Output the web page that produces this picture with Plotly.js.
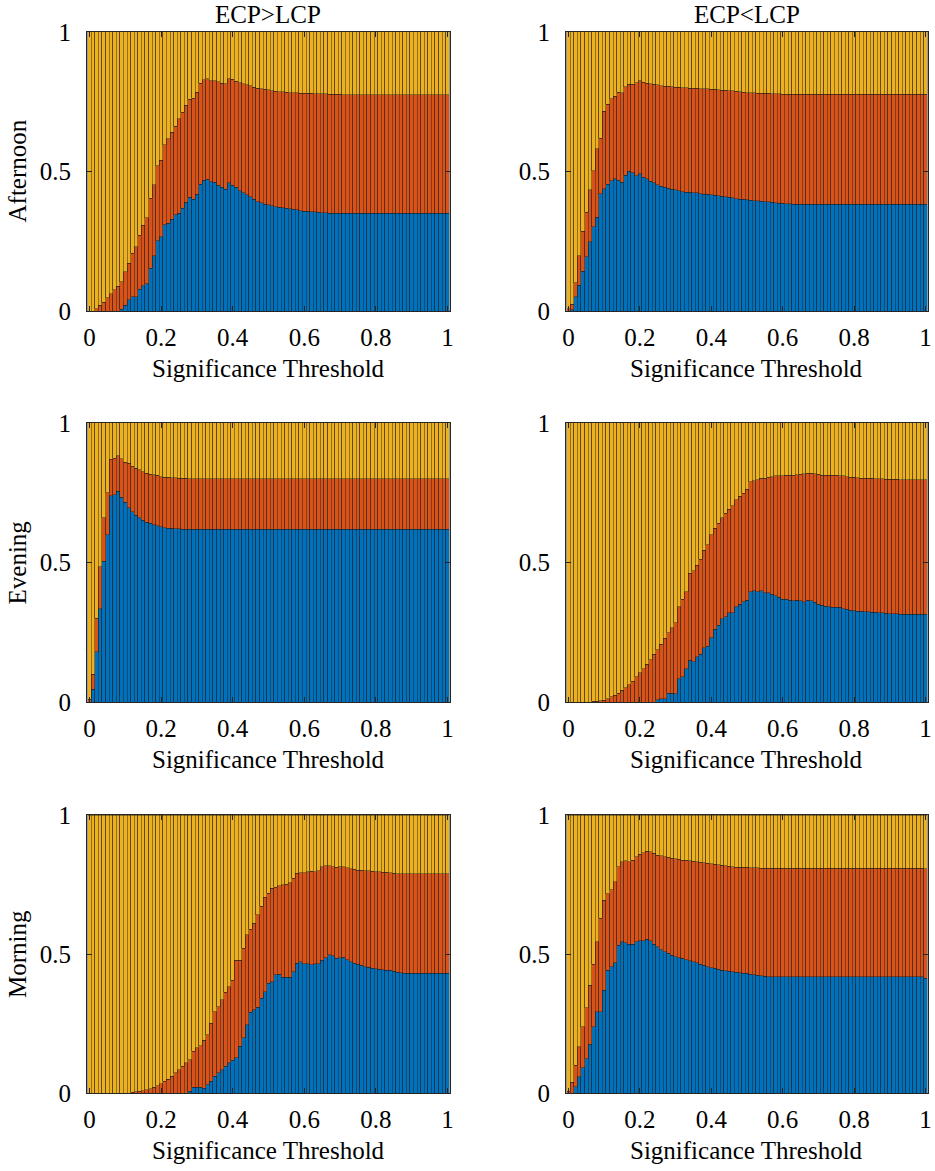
<!DOCTYPE html>
<html>
<head>
<meta charset="utf-8">
<script src="https://cdn.plot.ly/plotly-3.0.1.min.js"></script>
<style>
  html, body { margin: 0; padding: 0; background: #fff; }
  #chart { width: 935px; height: 1171px; }
</style>
</head>
<body>
<div id="chart"></div>
<script>
// ── Dados: topo acumulado de cada faixa ───────────────────────────
// thresholds 0.00 … 1.00 (101 barras); "Blue" = topo da faixa azul,
// "Mid" = topo da faixa laranja; o amarelo completa até 1.

const thresholds = Array.from({ length: 101 }, (_, i) => i / 100);

const xTickVals = [0, 0.2, 0.4, 0.6, 0.8, 1];
const xTickText = ['0', '0.2', '0.4', '0.6', '0.8', '1'];
const yTickVals = [0, 0.5, 1];
const yTickText = ['0', '0.5', '1'];

const colTitles = ['ECP&gt;LCP', 'ECP&lt;LCP'];
const rowTitles = ['Afternoon', 'Evening', 'Morning'];

// Afternoon, ECP>LCP
const aftGtBlue = [
  0, 0, 0, 0, 0, 0, 0, 0, 0, 0.006,
  0.02, 0.04, 0.052, 0.052, 0.078, 0.09, 0.098, 0.153, 0.198, 0.251,
  0.266, 0.309, 0.315, 0.329, 0.345, 0.351, 0.368, 0.389, 0.407, 0.401,
  0.419, 0.455, 0.469, 0.473, 0.463, 0.461, 0.451, 0.444, 0.437, 0.459,
  0.451, 0.443, 0.431, 0.424, 0.416, 0.41, 0.401, 0.392, 0.388, 0.383,
  0.38, 0.377, 0.374, 0.372, 0.37, 0.368, 0.366, 0.364, 0.362, 0.36,
  0.358, 0.357, 0.356, 0.355, 0.354, 0.353, 0.352, 0.351, 0.35, 0.35,
  0.35, 0.35, 0.35, 0.35, 0.35, 0.35, 0.35, 0.35, 0.35, 0.35,
  0.35, 0.35, 0.35, 0.35, 0.35, 0.35, 0.35, 0.35, 0.35, 0.35,
  0.35, 0.35, 0.35, 0.35, 0.35, 0.35, 0.35, 0.35, 0.35, 0.35,
  0.35,
];
const aftGtMid = [
  0, 0, 0.008, 0.02, 0.032, 0.047, 0.062, 0.077, 0.089, 0.104,
  0.14, 0.171, 0.207, 0.23, 0.272, 0.308, 0.335, 0.404, 0.452, 0.521,
  0.541, 0.595, 0.617, 0.641, 0.662, 0.689, 0.713, 0.737, 0.758, 0.763,
  0.784, 0.817, 0.829, 0.832, 0.826, 0.825, 0.821, 0.817, 0.815, 0.832,
  0.83, 0.823, 0.818, 0.815, 0.811, 0.807, 0.802, 0.799, 0.796, 0.795,
  0.793, 0.79, 0.787, 0.786, 0.785, 0.784, 0.783, 0.782, 0.782, 0.781,
  0.781, 0.78, 0.78, 0.779, 0.779, 0.778, 0.778, 0.777, 0.777, 0.776,
  0.776, 0.775, 0.775, 0.775, 0.775, 0.775, 0.775, 0.775, 0.775, 0.775,
  0.775, 0.775, 0.775, 0.775, 0.775, 0.775, 0.775, 0.775, 0.775, 0.775,
  0.775, 0.775, 0.775, 0.775, 0.775, 0.775, 0.775, 0.775, 0.775, 0.775,
  0.775,
];

// Afternoon, ECP<LCP
const aftLtBlue = [
  0, 0.005, 0.052, 0.092, 0.142, 0.195, 0.249, 0.302, 0.336, 0.42,
  0.438, 0.454, 0.466, 0.474, 0.468, 0.462, 0.486, 0.5, 0.495, 0.484,
  0.492, 0.48, 0.474, 0.465, 0.459, 0.453, 0.448, 0.443, 0.44, 0.437,
  0.434, 0.431, 0.428, 0.426, 0.425, 0.424, 0.423, 0.421, 0.419, 0.418,
  0.416, 0.415, 0.413, 0.411, 0.409, 0.407, 0.405, 0.403, 0.401, 0.4,
  0.398, 0.397, 0.396, 0.395, 0.393, 0.392, 0.391, 0.389, 0.388, 0.387,
  0.386, 0.385, 0.384, 0.383, 0.383, 0.383, 0.383, 0.383, 0.383, 0.383,
  0.383, 0.383, 0.383, 0.383, 0.383, 0.383, 0.383, 0.383, 0.383, 0.383,
  0.383, 0.383, 0.383, 0.383, 0.383, 0.383, 0.383, 0.383, 0.383, 0.383,
  0.383, 0.383, 0.383, 0.383, 0.383, 0.383, 0.383, 0.383, 0.383, 0.383,
  0.383,
];
const aftLtMid = [
  0.008, 0.025, 0.102, 0.198, 0.285, 0.354, 0.435, 0.502, 0.582, 0.62,
  0.716, 0.741, 0.76, 0.77, 0.784, 0.782, 0.804, 0.812, 0.812, 0.818,
  0.826, 0.82, 0.817, 0.815, 0.812, 0.81, 0.808, 0.806, 0.805, 0.803,
  0.802, 0.801, 0.8, 0.8, 0.799, 0.799, 0.798, 0.797, 0.796, 0.796,
  0.795, 0.794, 0.793, 0.792, 0.791, 0.79, 0.789, 0.787, 0.785, 0.784,
  0.783, 0.782, 0.782, 0.781, 0.781, 0.781, 0.78, 0.779, 0.778, 0.778,
  0.777, 0.777, 0.777, 0.777, 0.777, 0.777, 0.777, 0.777, 0.777, 0.777,
  0.777, 0.777, 0.777, 0.777, 0.777, 0.777, 0.777, 0.777, 0.777, 0.777,
  0.777, 0.777, 0.777, 0.777, 0.777, 0.777, 0.777, 0.777, 0.777, 0.777,
  0.777, 0.777, 0.777, 0.777, 0.777, 0.777, 0.777, 0.777, 0.777, 0.777,
  0.777,
];

// Evening, ECP>LCP
const eveGtBlue = [
  0, 0.045, 0.18, 0.335, 0.505, 0.6, 0.74, 0.742, 0.755, 0.733,
  0.715, 0.697, 0.681, 0.669, 0.66, 0.651, 0.645, 0.64, 0.636, 0.632,
  0.628, 0.625, 0.623, 0.622, 0.621, 0.621, 0.62, 0.62, 0.62, 0.62,
  0.62, 0.62, 0.62, 0.62, 0.62, 0.62, 0.62, 0.62, 0.62, 0.62,
  0.62, 0.62, 0.62, 0.62, 0.62, 0.62, 0.62, 0.62, 0.62, 0.62,
  0.62, 0.62, 0.62, 0.62, 0.62, 0.62, 0.62, 0.62, 0.62, 0.62,
  0.62, 0.62, 0.62, 0.62, 0.62, 0.62, 0.62, 0.62, 0.62, 0.62,
  0.62, 0.62, 0.62, 0.62, 0.62, 0.62, 0.62, 0.62, 0.62, 0.62,
  0.62, 0.62, 0.62, 0.62, 0.62, 0.62, 0.62, 0.62, 0.62, 0.62,
  0.62, 0.62, 0.62, 0.62, 0.62, 0.62, 0.62, 0.62, 0.62, 0.62,
  0.62,
];
const eveGtMid = [
  0.01, 0.1, 0.3, 0.485, 0.66, 0.75, 0.87, 0.873, 0.883, 0.872,
  0.86, 0.855, 0.845, 0.838, 0.832, 0.826, 0.82, 0.816, 0.814, 0.812,
  0.808, 0.806, 0.805, 0.804, 0.803, 0.802, 0.802, 0.801, 0.8, 0.8,
  0.8, 0.8, 0.8, 0.8, 0.8, 0.8, 0.8, 0.8, 0.8, 0.8,
  0.8, 0.8, 0.8, 0.8, 0.8, 0.8, 0.8, 0.8, 0.8, 0.8,
  0.8, 0.8, 0.8, 0.8, 0.8, 0.8, 0.8, 0.8, 0.8, 0.8,
  0.8, 0.8, 0.8, 0.8, 0.8, 0.8, 0.8, 0.8, 0.8, 0.8,
  0.8, 0.8, 0.8, 0.8, 0.8, 0.8, 0.8, 0.8, 0.8, 0.8,
  0.8, 0.8, 0.8, 0.8, 0.8, 0.8, 0.8, 0.8, 0.8, 0.8,
  0.8, 0.8, 0.8, 0.8, 0.8, 0.8, 0.8, 0.8, 0.8, 0.8,
  0.8,
];

// Evening, ECP<LCP
const eveLtBlue = [
  0, 0, 0, 0, 0, 0, 0, 0, 0, 0,
  0, 0, 0, 0, 0, 0, 0, 0, 0, 0,
  0, 0, 0, 0, 0, 0.008, 0.012, 0.012, 0.032, 0.032,
  0.03, 0.084, 0.09, 0.12, 0.15, 0.144, 0.162, 0.171, 0.195, 0.2,
  0.231, 0.26, 0.275, 0.299, 0.305, 0.32, 0.32, 0.341, 0.351, 0.359,
  0.365, 0.395, 0.399, 0.395, 0.399, 0.392, 0.392, 0.386, 0.38, 0.375,
  0.369, 0.369, 0.365, 0.363, 0.365, 0.362, 0.359, 0.365, 0.363, 0.357,
  0.351, 0.347, 0.344, 0.341, 0.339, 0.339, 0.339, 0.335, 0.332, 0.329,
  0.327, 0.326, 0.325, 0.324, 0.323, 0.322, 0.321, 0.32, 0.319, 0.318,
  0.317, 0.316, 0.316, 0.315, 0.315, 0.314, 0.314, 0.314, 0.314, 0.314,
  0.314,
];
const eveLtMid = [
  0, 0, 0, 0, 0, 0, 0, 0.002, 0.002, 0.004,
  0.006, 0.012, 0.018, 0.024, 0.032, 0.042, 0.051, 0.062, 0.074, 0.09,
  0.104, 0.12, 0.135, 0.152, 0.171, 0.188, 0.207, 0.228, 0.249, 0.267,
  0.284, 0.341, 0.369, 0.395, 0.461, 0.471, 0.491, 0.511, 0.543, 0.563,
  0.599, 0.623, 0.641, 0.661, 0.677, 0.691, 0.703, 0.725, 0.737, 0.749,
  0.763, 0.79, 0.793, 0.796, 0.802, 0.802, 0.806, 0.808, 0.811, 0.811,
  0.811, 0.812, 0.812, 0.813, 0.814, 0.816, 0.818, 0.82, 0.82, 0.818,
  0.816, 0.813, 0.812, 0.812, 0.813, 0.813, 0.811, 0.81, 0.807, 0.806,
  0.805, 0.804, 0.802, 0.802, 0.801, 0.801, 0.8, 0.8, 0.8, 0.799,
  0.799, 0.798, 0.798, 0.797, 0.797, 0.796, 0.796, 0.796, 0.796, 0.796,
  0.796,
];

// Morning, ECP>LCP
const morGtBlue = [
  0, 0, 0, 0, 0, 0, 0, 0, 0, 0,
  0, 0, 0, 0, 0, 0, 0, 0, 0, 0,
  0, 0, 0, 0, 0, 0, 0, 0, 0.006, 0.02,
  0.02, 0.02, 0.018, 0.03, 0.042, 0.06, 0.072, 0.084, 0.096, 0.108,
  0.117, 0.126, 0.168, 0.198, 0.246, 0.29, 0.299, 0.309, 0.341, 0.365,
  0.395, 0.401, 0.425, 0.428, 0.417, 0.417, 0.417, 0.437, 0.467, 0.473,
  0.465, 0.465, 0.461, 0.465, 0.465, 0.477, 0.487, 0.497, 0.493, 0.485,
  0.487, 0.489, 0.479, 0.473, 0.467, 0.464, 0.459, 0.455, 0.453, 0.449,
  0.447, 0.445, 0.443, 0.442, 0.441, 0.438, 0.434, 0.432, 0.431, 0.431,
  0.431, 0.431, 0.431, 0.431, 0.431, 0.431, 0.431, 0.431, 0.431, 0.431,
  0.431,
];
const morGtMid = [
  0, 0, 0, 0, 0, 0, 0, 0, 0, 0,
  0, 0, 0.002, 0.004, 0.006, 0.008, 0.012, 0.016, 0.02, 0.026,
  0.034, 0.042, 0.05, 0.06, 0.072, 0.084, 0.096, 0.108, 0.12, 0.15,
  0.162, 0.17, 0.189, 0.21, 0.251, 0.293, 0.311, 0.335, 0.362, 0.383,
  0.405, 0.477, 0.477, 0.521, 0.569, 0.589, 0.611, 0.641, 0.671, 0.704,
  0.719, 0.737, 0.74, 0.745, 0.749, 0.751, 0.757, 0.772, 0.79, 0.792,
  0.792, 0.796, 0.798, 0.796, 0.8, 0.814, 0.817, 0.818, 0.814, 0.812,
  0.814, 0.814, 0.811, 0.806, 0.805, 0.802, 0.801, 0.8, 0.799, 0.798,
  0.796, 0.796, 0.795, 0.794, 0.793, 0.791, 0.788, 0.788, 0.788, 0.788,
  0.788, 0.788, 0.788, 0.788, 0.788, 0.788, 0.788, 0.788, 0.788, 0.788,
  0.788,
];

// Morning, ECP<LCP
const morLtBlue = [
  0, 0, 0.022, 0.058, 0.091, 0.124, 0.175, 0.238, 0.292, 0.292,
  0.37, 0.442, 0.454, 0.468, 0.532, 0.544, 0.54, 0.535, 0.535, 0.544,
  0.547, 0.547, 0.553, 0.547, 0.535, 0.526, 0.516, 0.508, 0.502, 0.496,
  0.49, 0.487, 0.484, 0.48, 0.476, 0.472, 0.468, 0.464, 0.46, 0.455,
  0.451, 0.448, 0.445, 0.442, 0.44, 0.438, 0.436, 0.434, 0.432, 0.431,
  0.43, 0.428, 0.426, 0.424, 0.422, 0.42, 0.419, 0.418, 0.418, 0.418,
  0.418, 0.418, 0.418, 0.418, 0.418, 0.418, 0.418, 0.418, 0.418, 0.418,
  0.418, 0.418, 0.418, 0.418, 0.418, 0.418, 0.418, 0.418, 0.418, 0.418,
  0.418, 0.418, 0.418, 0.418, 0.418, 0.418, 0.418, 0.418, 0.418, 0.418,
  0.418, 0.418, 0.418, 0.418, 0.418, 0.418, 0.418, 0.418, 0.418, 0.418,
  0.412,
];
const morLtMid = [
  0.006, 0.039, 0.1, 0.166, 0.238, 0.307, 0.388, 0.463, 0.544, 0.628,
  0.694, 0.717, 0.732, 0.76, 0.814, 0.832, 0.836, 0.832, 0.838, 0.85,
  0.858, 0.864, 0.87, 0.868, 0.862, 0.856, 0.853, 0.85, 0.848, 0.844,
  0.842, 0.84, 0.838, 0.837, 0.835, 0.834, 0.832, 0.83, 0.828, 0.826,
  0.824, 0.822, 0.821, 0.819, 0.817, 0.815, 0.814, 0.813, 0.813, 0.812,
  0.812, 0.811, 0.81, 0.81, 0.809, 0.809, 0.808, 0.808, 0.808, 0.808,
  0.808, 0.808, 0.808, 0.808, 0.808, 0.808, 0.808, 0.808, 0.808, 0.808,
  0.808, 0.808, 0.808, 0.808, 0.808, 0.808, 0.808, 0.808, 0.808, 0.808,
  0.808, 0.808, 0.808, 0.808, 0.808, 0.808, 0.808, 0.808, 0.808, 0.808,
  0.808, 0.808, 0.808, 0.808, 0.808, 0.808, 0.808, 0.808, 0.808, 0.808,
  0.806,
];

// ── Estilo ────────────────────────────────────────────────

const COLORS = { low: '#0072BD', mid: '#D95319', high: '#EDB120' };
const EDGE   = { color: 'rgba(30,30,30,0.75)', width: 0.6 };
const FONT   = { family: 'Liberation Serif, Times New Roman, serif', size: 25, color: '#000' };

// domínios em fração da página (935 x 1171)
const colDomains = [[0.093, 0.4813], [0.6053, 0.9925]];
const rowDomains = [[0.7344, 0.9727], [0.4005, 0.6388], [0.0666, 0.304]];

const panels = [
  { blue: aftGtBlue, mid: aftGtMid, row: 0, col: 0 },
  { blue: aftLtBlue, mid: aftLtMid, row: 0, col: 1 },
  { blue: eveGtBlue, mid: eveGtMid, row: 1, col: 0 },
  { blue: eveLtBlue, mid: eveLtMid, row: 1, col: 1 },
  { blue: morGtBlue, mid: morGtMid, row: 2, col: 0 },
  { blue: morLtBlue, mid: morLtMid, row: 2, col: 1 },
];

function axisBase() {
  return {
    showline: true, linecolor: '#262626', linewidth: 1, mirror: 'ticks',
    ticks: 'inside', ticklen: 5, tickwidth: 1, tickcolor: '#262626',
    showgrid: false, zeroline: false, fixedrange: true,
    tickfont: FONT,
  };
}

// ── Traces e layout ───────────────────────────────────────

const traces = [];
const layout = {
  width: 935, height: 1171,
  margin: { l: 0, r: 0, t: 0, b: 0 },
  paper_bgcolor: '#fff', plot_bgcolor: '#fff',
  barmode: 'stack', bargap: 0,
  showlegend: false,
  font: FONT,
  annotations: [],
};

panels.forEach((p, k) => {
  const n = k + 1;
  const xa = n === 1 ? 'x' : `x${n}`;
  const ya = n === 1 ? 'y' : `y${n}`;

  const low  = p.blue;
  const mid  = p.mid.map((m, i) => m - p.blue[i]);
  const high = p.mid.map((m) => 1 - m);

  [[low, COLORS.low], [mid, COLORS.mid], [high, COLORS.high]].forEach(([vals, color]) => {
    traces.push({
      type: 'bar', x: thresholds, y: vals,
      xaxis: xa, yaxis: ya,
      marker: { color, line: EDGE },
      hoverinfo: 'skip',
    });
  });

  layout[n === 1 ? 'xaxis' : `xaxis${n}`] = {
    ...axisBase(),
    domain: colDomains[p.col], anchor: ya,
    range: [-0.007, 1.007],
    tickvals: xTickVals, ticktext: xTickText,
    ticklabelstandoff: 4,
  };
  layout[n === 1 ? 'yaxis' : `yaxis${n}`] = {
    ...axisBase(),
    domain: rowDomains[p.row], anchor: xa,
    range: [0, 1],
    tickvals: yTickVals, ticktext: yTickText,
    ticklabelstandoff: 10,
  };

  // título do eixo x (Significance Threshold) sob cada painel
  const xd = colDomains[p.col];
  layout.annotations.push({
    text: 'Significance Threshold', showarrow: false,
    xref: 'paper', yref: 'paper',
    x: (xd[0] + xd[1]) / 2, y: rowDomains[p.row][0] - 57 / 1171,
    xanchor: 'center', yanchor: 'middle', font: FONT,
  });
});

colTitles.forEach((t, c) => {
  const xd = colDomains[c];
  layout.annotations.push({
    text: t, showarrow: false, xref: 'paper', yref: 'paper',
    x: (xd[0] + xd[1]) / 2, y: 1 - 14 / 1171,
    xanchor: 'center', yanchor: 'middle', font: FONT,
  });
});

rowTitles.forEach((t, r) => {
  const yd = rowDomains[r];
  layout.annotations.push({
    text: t, showarrow: false, xref: 'paper', yref: 'paper',
    x: 17 / 935, y: (yd[0] + yd[1]) / 2, textangle: -90,
    xanchor: 'center', yanchor: 'middle', font: FONT,
  });
});

Plotly.newPlot('chart', traces, layout, { displayModeBar: false, staticPlot: true });
</script>
</body>
</html>
